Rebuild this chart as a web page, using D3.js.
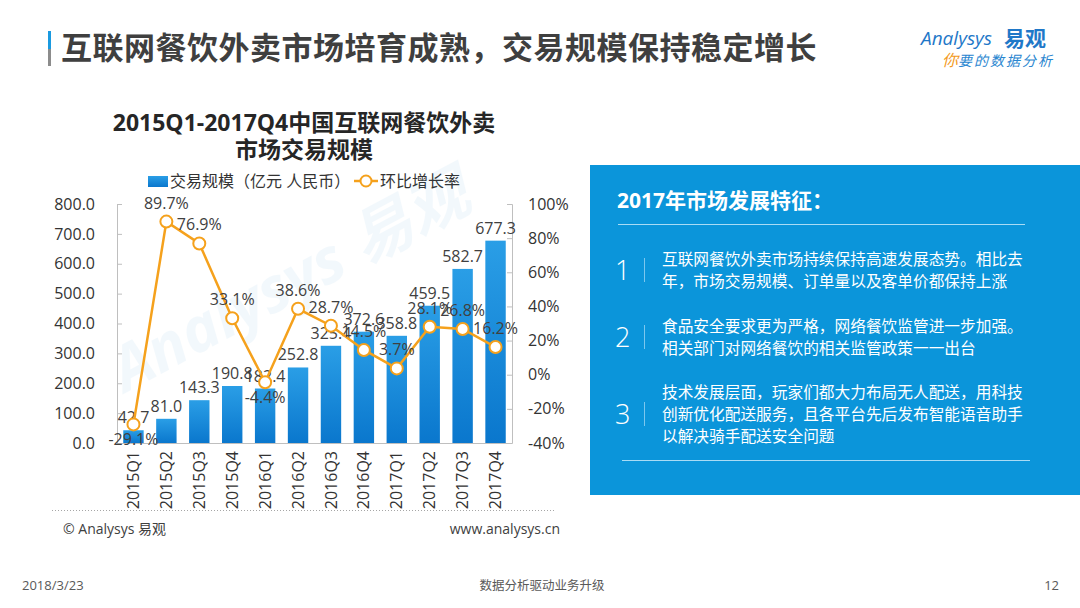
<!DOCTYPE html>
<html>
<head>
<meta charset="utf-8">
<script src="https://cdn.jsdelivr.net/npm/d3@7"></script>
<style>
  html, body { margin: 0; padding: 0; background: #fff; }
  svg { display: block; }
  text { font-family: "Open Sans", "Noto Sans CJK SC", sans-serif; }
</style>
</head>
<body>
<svg width="1080" height="608"></svg>
<script>
// chart data
const quarters = ['2015Q1','2015Q2','2015Q3','2015Q4','2016Q1','2016Q2','2016Q3','2016Q4','2017Q1','2017Q2','2017Q3','2017Q4'];
const scale = [42.7, 81.0, 143.3, 190.8, 182.4, 252.8, 325.4, 372.6, 358.8, 459.5, 582.7, 677.3];
const growth = [-29.1, 89.7, 76.9, 33.1, -4.4, 38.6, 28.7, 14.5, 3.7, 28.1, 26.8, 16.2];
const leftTicks = [0, 100, 200, 300, 400, 500, 600, 700, 800];
const rightTicks = [-40, -20, 0, 20, 40, 60, 80, 100];

// right panel text
const points = [
    ['互联网餐饮外卖市场持续保持高速发展态势。相比去', '年，市场交易规模、订单量以及客单价都保持上涨'],
    ['食品安全要求更为严格，网络餐饮监管进一步加强。', '相关部门对网络餐饮的相关监管政策一一出台'],
    ['技术发展层面，玩家们都大力布局无人配送，用科技', '创新优化配送服务，且各平台先后发布智能语音助手', '以解决骑手配送安全问题']
];

const svg = d3.select('svg');

//gradient for bars
const defs = svg.append('defs');
const grad = defs.append('linearGradient').attr('id', 'barGrad')
    .attr('x1', 0).attr('y1', 0).attr('x2', 0).attr('y2', 1);
grad.append('stop').attr('offset', '0%').attr('stop-color', '#2a9ee6');
grad.append('stop').attr('offset', '100%').attr('stop-color', '#0a77cd');

// page title
svg.append('rect').attr('x', 48).attr('y', 31).attr('width', 3).attr('height', 18).attr('fill', '#1a9ae0');
svg.append('rect').attr('x', 48).attr('y', 49).attr('width', 3).attr('height', 17).attr('fill', '#8c8c8c');
svg.append('text').attr('x', 61).attr('y', 59)
    .attr('font-size', 31).attr('font-weight', 'bold').attr('fill', '#3f3f3f')
    .attr('letter-spacing', 0.5)
    .attr('font-family', '"Noto Sans CJK SC", sans-serif')
    .text('互联网餐饮外卖市场培育成熟，交易规模保持稳定增长');

// logo
const logo = svg.append('g');
logo.append('text').attr('x', 921).attr('y', 45)
    .attr('font-size', 19).attr('font-style', 'italic').attr('fill', '#1f78c8')
    .text('Analysys');
logo.append('text').attr('x', 1004).attr('y', 46)
    .attr('font-size', 21).attr('font-weight', 'bold').attr('fill', '#1f78c8')
    .attr('font-family', '"Noto Sans CJK SC", sans-serif')
    .text('易观');
const slogan = logo.append('text').attr('x', 942).attr('y', 66)
    .attr('font-size', 14).attr('font-style', 'italic')
    .attr('font-family', '"Noto Sans CJK SC", sans-serif');
slogan.append('tspan').attr('fill', '#f39a1e').attr('font-size', 16).text('你');
slogan.append('tspan').attr('fill', '#2a86d0').attr('letter-spacing', 2).text('要的数据分析');

// chart title
svg.append('text').attr('x', 304).attr('y', 131).attr('text-anchor', 'middle')
    .attr('font-size', 23).attr('font-weight', 'bold').attr('fill', '#262626')
    .text('2015Q1-2017Q4中国互联网餐饮外卖');
svg.append('text').attr('x', 304).attr('y', 158).attr('text-anchor', 'middle')
    .attr('font-size', 23).attr('font-weight', 'bold').attr('fill', '#262626')
    .text('市场交易规模');

// legend
svg.append('rect').attr('x', 148).attr('y', 176).attr('width', 20).attr('height', 11).attr('fill', 'url(#barGrad)');
svg.append('text').attr('x', 170).attr('y', 187).attr('font-size', 16).attr('fill', '#333')
    .attr('font-family', '"Noto Sans CJK SC", sans-serif')
    .text('交易规模（亿元 人民币）');
svg.append('line').attr('x1', 354).attr('x2', 378).attr('y1', 181).attr('y2', 181)
    .attr('stroke', '#f5a11c').attr('stroke-width', 2.5);
svg.append('circle').attr('cx', 366).attr('cy', 181).attr('r', 5.5)
    .attr('fill', '#fff').attr('stroke', '#f5a11c').attr('stroke-width', 2);
svg.append('text').attr('x', 380).attr('y', 187).attr('font-size', 16).attr('fill', '#333')
    .attr('font-family', '"Noto Sans CJK SC", sans-serif')
    .text('环比增长率');

// scales
const xS = d3.scaleBand().domain(quarters).range([117, 512]).paddingInner(0.38).paddingOuter(0.19);
const yL = d3.scaleLinear().domain([0, 800]).range([443, 204]);
const yR = d3.scaleLinear().domain([-40, 100]).range([443, 204]);

// watermark
svg.append('text').attr('transform', 'translate(300,300) rotate(-28)')
    .attr('text-anchor', 'middle').attr('font-size', 62).attr('font-weight', 'bold')
    .attr('font-style', 'italic').attr('fill', '#1a8ad4').attr('opacity', 0.05)
    .text('Analysys 易观');

// left axis
const axL = svg.append('g').attr('transform', 'translate(117,0)')
    .call(d3.axisLeft(yL).tickValues(leftTicks).tickFormat(d3.format('.1f')).tickSize(-5).tickPadding(22));
axL.select('.domain').attr('stroke', '#bfbfbf');
axL.selectAll('.tick line').attr('stroke', '#bfbfbf');
axL.selectAll('text').attr('font-size', 16).attr('fill', '#333').attr('font-family', '"Open Sans", sans-serif');

// right axis
const axR = svg.append('g').attr('transform', 'translate(512,0)')
    .call(d3.axisRight(yR).tickValues(rightTicks).tickFormat(d => d + '%').tickSize(-5).tickPadding(16));
axR.select('.domain').attr('stroke', '#bfbfbf');
axR.selectAll('.tick line').attr('stroke', '#bfbfbf');
axR.selectAll('text').attr('font-size', 16).attr('fill', '#333').attr('font-family', '"Open Sans", sans-serif');

// bars
svg.append('g').selectAll('rect').data(scale).enter().append('rect')
    .attr('x', (d, i) => xS(quarters[i]))
    .attr('y', d => yL(d))
    .attr('width', xS.bandwidth())
    .attr('height', d => yL(0) - yL(d))
    .attr('fill', 'url(#barGrad)');

// bottom axis
const axB = svg.append('g').attr('transform', 'translate(0,443)')
    .call(d3.axisBottom(xS).tickSize(0).tickPadding(0));
axB.select('.domain').attr('stroke', '#bfbfbf').attr('d', 'M117,0.5H512');
axB.selectAll('text')
    .attr('transform', 'rotate(-90)')
    .attr('text-anchor', 'end')
    .attr('x', -8).attr('y', 0).attr('dy', '0.35em')
    .attr('font-size', 16).attr('fill', '#333').attr('font-family', '"Open Sans", sans-serif');

// bar value labels
svg.append('g').selectAll('text').data(scale).enter().append('text')
    .attr('x', (d, i) => xS(quarters[i]) + xS.bandwidth() / 2)
    .attr('y', d => yL(d) - 7)
    .attr('text-anchor', 'middle').attr('font-size', 16).attr('fill', '#404040')
    .text(d => d.toFixed(1));

// growth line
const cx = (d, i) => xS(quarters[i]) + xS.bandwidth() / 2;
const line = d3.line().x(cx).y(d => yR(d));
svg.append('path').datum(growth).attr('d', line)
    .attr('fill', 'none').attr('stroke', '#f5a11c').attr('stroke-width', 2.5);
svg.append('g').selectAll('circle').data(growth).enter().append('circle')
    .attr('cx', cx).attr('cy', d => yR(d)).attr('r', 6)
    .attr('fill', '#fff').attr('stroke', '#f5a11c').attr('stroke-width', 2);
svg.append('g').selectAll('text').data(growth).enter().append('text')
    .attr('x', cx)
    .attr('y', d => d < 0 ? yR(d) + 21 : yR(d) - 13)
    .attr('text-anchor', 'middle').attr('font-size', 16).attr('fill', '#404040')
    .text(d => d.toFixed(1) + '%');

// footer of chart
svg.append('line').attr('x1', 52).attr('x2', 556).attr('y1', 510.5).attr('y2', 510.5)
    .attr('stroke', '#a6a6a6').attr('stroke-dasharray', '1,2');
svg.append('text').attr('x', 63).attr('y', 534).attr('font-size', 14).attr('fill', '#404040')
    .text('© Analysys 易观');
svg.append('text').attr('x', 560).attr('y', 534).attr('text-anchor', 'end').attr('font-size', 14).attr('fill', '#404040')
    .text('www.analysys.cn');

// right panel
const panel = svg.append('g');
panel.append('rect').attr('x', 590).attr('y', 165).attr('width', 490).attr('height', 330).attr('fill', '#0b95da');
panel.append('text').attr('x', 617).attr('y', 208).attr('font-size', 21).attr('font-weight', 'bold').attr('fill', '#fff')
    .text('2017年市场发展特征：');
panel.append('line').attr('x1', 618).attr('x2', 1025).attr('y1', 224.5).attr('y2', 224.5)
    .attr('stroke', '#a9dcf5').attr('stroke-width', 1);
panel.append('line').attr('x1', 622).attr('x2', 1030).attr('y1', 460.5).attr('y2', 460.5)
    .attr('stroke', '#a9dcf5').attr('stroke-width', 1);

const itemTops = [259, 326, 392];
points.forEach((lines, k) => {
    const top = itemTops[k];
    const mid = top + (lines.length - 1) * 11;
    panel.append('text').attr('x', 615).attr('y', mid + 10).attr('font-size', 27).attr('fill', '#fff')
        .attr('font-weight', 300).text(k + 1);
    panel.append('line').attr('x1', 644.5).attr('x2', 644.5).attr('y1', mid - 12).attr('y2', mid + 12)
        .attr('stroke', '#7cc7ee').attr('stroke-width', 1);
    lines.forEach((t, j) => {
        panel.append('text').attr('x', 662).attr('y', top + j * 22 + 6)
            .attr('font-size', 15.7).attr('fill', '#fff')
            .attr('font-family', '"Noto Sans CJK SC", sans-serif')
            .text(t);
    });
});

// page footer
svg.append('text').attr('x', 22).attr('y', 590).attr('font-size', 13).attr('fill', '#595959').text('2018/3/23');
svg.append('text').attr('x', 542).attr('y', 590).attr('text-anchor', 'middle').attr('font-size', 12.5).attr('fill', '#595959')
    .attr('font-family', '"Noto Sans CJK SC", sans-serif').text('数据分析驱动业务升级');
svg.append('text').attr('x', 1059).attr('y', 590).attr('text-anchor', 'end').attr('font-size', 13).attr('fill', '#595959').text('12');
</script>
</body>
</html>
